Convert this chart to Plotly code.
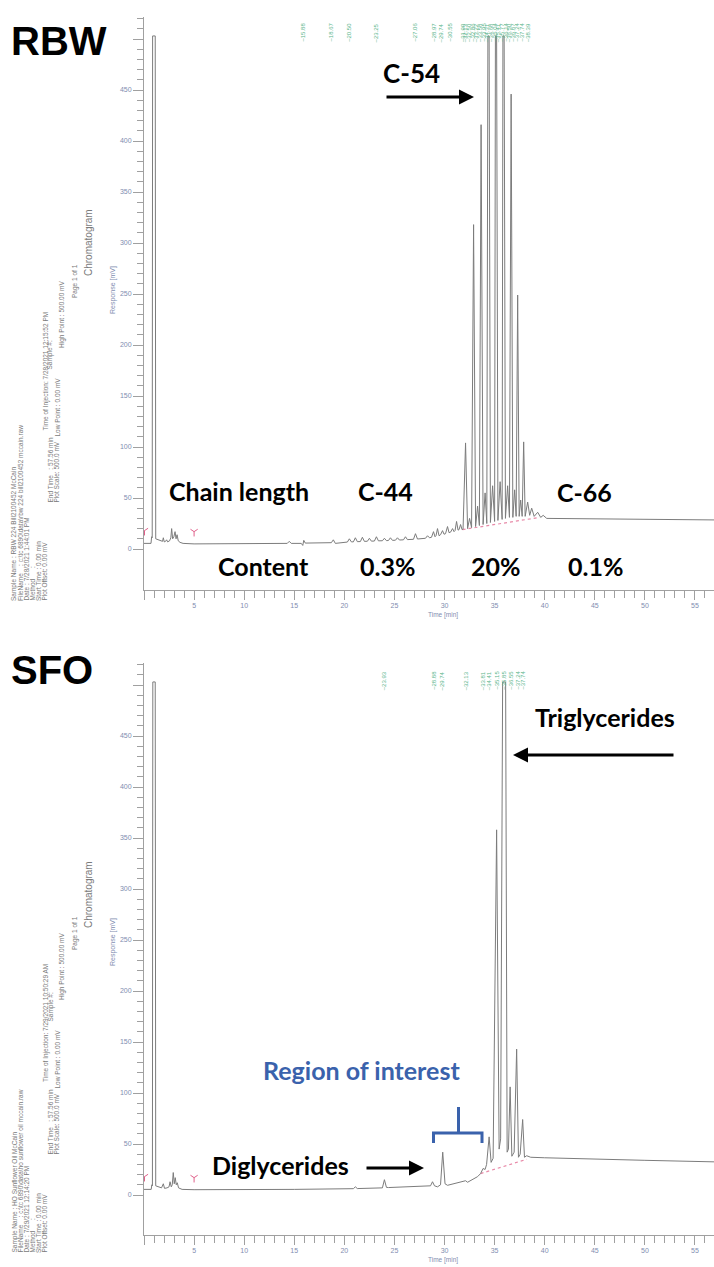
import plotly.graph_objects as go

W, H = 714, 1267

# ---------------- data (time [min], response [mV]) ----------------
rbw_trace = [
    (0.0, 5.5), (0.70, 5.5), (0.76, 12), (0.82, 11), (0.86, 503), (1.12, 503), (1.17, 10),
    (1.40, 9), (1.70, 8), (1.85, 7.5), (1.93, 11), (2.02, 7), (2.15, 7.5), (2.26, 9), (2.36, 7),
    (2.55, 8), (2.68, 11), (2.76, 20), (2.86, 10), (2.98, 12), (3.10, 17), (3.20, 10), (3.30, 14),
    (3.42, 8), (3.60, 6.5), (3.90, 5.5), (5.0, 5.0), (8.0, 5.0), (12.0, 5.5), (14.3, 5.5),
    (14.5, 7.5), (14.7, 5.5), (15.7, 5.5), (15.85, 3.5), (15.95, 8.5), (16.1, 5.8), (18.7, 6.2),
    (18.9, 9), (19.1, 5.5), (20.3, 6.8), (20.5, 10), (20.7, 7), (20.9, 7), (21.1, 11), (21.3, 7.2),
    (21.6, 7.3), (21.8, 11.5), (22.0, 7.5), (22.3, 7.6), (22.5, 10.5), (22.7, 7.7), (23.0, 7.8),
    (23.2, 12), (23.4, 8), (23.8, 8.1), (24.0, 10.5), (24.2, 8.2), (24.4, 8.3), (24.6, 11),
    (24.8, 8.5), (25.1, 8.6), (25.3, 11), (25.5, 8.8), (25.9, 9), (26.1, 12), (26.3, 9.2),
    (26.9, 9.5), (27.1, 15), (27.3, 9.8), (28.1, 10.5), (28.3, 13), (28.5, 11), (28.7, 11.5),
    (28.9, 17), (29.05, 12), (29.15, 13), (29.3, 20), (29.45, 13), (29.6, 14), (29.8, 18),
    (29.95, 14.5), (30.1, 15), (30.3, 22), (30.45, 16), (30.6, 16.5), (30.8, 20), (30.95, 17),
    (31.05, 18), (31.2, 27), (31.35, 18.5), (31.45, 19), (31.6, 24), (31.75, 19), (31.85, 19.5),
    (32.1, 104), (32.3, 20), (32.5, 30), (32.7, 21), (32.9, 318), (33.1, 22), (33.3, 42),
    (33.48, 23), (33.65, 416), (33.85, 24), (34.05, 55), (34.22, 25), (34.33, 503), (34.45, 503),
    (34.58, 26), (34.8, 62), (35.0, 27), (35.08, 503), (35.2, 503), (35.33, 28), (35.55, 66),
    (35.75, 29), (35.83, 503), (35.95, 503), (36.08, 30), (36.3, 62), (36.48, 31), (36.65, 446),
    (36.82, 31), (37.0, 58), (37.15, 32), (37.3, 249), (37.45, 32), (37.6, 48), (37.75, 32),
    (37.9, 105), (38.05, 32), (38.3, 46), (38.5, 33), (38.7, 40), (38.95, 32), (39.3, 36),
    (39.6, 31), (39.85, 33), (40.2, 30), (45.0, 29.5), (50.0, 29), (56.9, 28.5),
]

sfo_trace = [
    (0.0, 5.5), (0.72, 5.5), (0.78, 10), (0.84, 9), (0.88, 503), (1.12, 503), (1.17, 9),
    (1.45, 8), (1.75, 7), (1.93, 11), (2.05, 6.5), (2.3, 7), (2.5, 8), (2.6, 13), (2.72, 8),
    (2.82, 10), (2.92, 22), (3.02, 11), (3.12, 17), (3.22, 10), (3.32, 12), (3.45, 7), (3.8, 5.5),
    (5.0, 5.2), (10.0, 5.0), (15.0, 5.5), (20.9, 6.2), (21.1, 8), (21.3, 6.3), (23.8, 7),
    (24.0, 15), (24.2, 7.5), (24.4, 7.3), (27.5, 8.5), (28.6, 9), (28.8, 13), (29.0, 9),
    (29.3, 8), (29.6, 10), (29.82, 42), (30.05, 11), (30.3, 9.5), (31.0, 11), (31.7, 12.5),
    (32.1, 14), (32.3, 12.5), (32.8, 15), (33.3, 18), (33.6, 21), (33.85, 26), (34.05, 25),
    (34.2, 30), (34.45, 57), (34.65, 32), (34.85, 36), (35.2, 358), (35.45, 45), (35.6, 55),
    (35.8, 503), (36.1, 503), (36.25, 42), (36.38, 45), (36.55, 106), (36.72, 38), (36.95, 42),
    (37.2, 143), (37.38, 37), (37.55, 40), (37.8, 74), (37.98, 37), (38.2, 38.5), (38.6, 37),
    (40.0, 36.5), (45.0, 35), (50.0, 34), (56.9, 32.5),
]

rbw_baseline = [(31.8, 19), (39.5, 31)]
sfo_baseline = [(33.6, 21), (38.2, 35)]
event_marks = [(0.05, 18), (5.0, 17)]

rbw_peak_labels = ["15.88", "18.67", "20.50", "23.25", "27.06", "28.97", "29.74", "30.55",
                   "31.90", "32.13", "32.50", "32.86", "33.22", "33.58", "33.95", "34.31",
                   "34.68", "35.04", "35.41", "35.77", "36.14", "36.50", "36.87", "37.24",
                   "37.74", "38.39"]
sfo_peak_labels = ["23.93", "28.88", "29.74", "32.13", "33.81", "34.41", "35.15", "35.85",
                   "36.55", "37.24", "37.74"]

x_major = list(range(0, 56, 5))
x_minor = [v for v in range(1, 57) if v % 5]
y_major = list(range(0, 501, 50))
y_minor = [v for v in range(10, 521, 10) if v % 50]

rbw_meta = [
    (14, 603, "Sample Name : RBW 224 Bill2100452 McCain"),
    (20, 603, "FileName    : c:\\tc 6890\\data\\rbw 224 bill2100452 mccain.raw"),
    (26, 603, "Date : 7/28/2021 1:44:01 PM"),
    (32, 603, "Method      :"),
    (38, 603, "Start Time : 0.00 min"),
    (44, 603, "Plot Offset: 0.00 mV"),
    (50, 505, "End Time   : 57.56 min"),
    (56, 505, "Plot Scale: 500.0 mV"),
    (46, 432, "Time of Injection: 7/28/2021 12:15:52 PM"),
    (57, 438, "Low Point : 0.00 mV"),
    (62, 350, "High Point : 500.00 mV"),
    (50, 372, "Sample #:"),
    (75, 300, "Page 1 of 1"),
]
sfo_meta = [
    (14, 603, "Sample Name : HO Sunflower Oil McCain"),
    (20, 603, "FileName    : c:\\tc 6890\\data\\ho sunflower oil mccain.raw"),
    (26, 603, "Date : 7/29/2021 12:14:20 PM"),
    (32, 603, "Method      :"),
    (38, 603, "Start Time : 0.00 min"),
    (44, 603, "Plot Offset: 0.00 mV"),
    (50, 505, "End Time   : 57.56 min"),
    (56, 505, "Plot Scale: 500.0 mV"),
    (46, 432, "Time of Injection: 7/29/2021 10:50:29 AM"),
    (57, 438, "Low Point : 0.00 mV"),
    (62, 350, "High Point : 500.00 mV"),
    (50, 372, "Sample #:"),
    (75, 300, "Page 1 of 1"),
]

# ---------------- layout geometry (pixels) ----------------
X0 = 144            # y-axis line
PANELS = [dict(top=17, bottom=590, zero=549), dict(top=663, bottom=1235, zero=1195)]
PX_PER_MV = 1.02
X_MAX = 56.9


def px(x):
    return x / W


def py(y):
    return 1 - y / H


fig = go.Figure()

trace_color = "#7c7c7c"
for i, (trace, base) in enumerate([(rbw_trace, rbw_baseline), (sfo_trace, sfo_baseline)]):
    xa = "x" if i == 0 else "x2"
    ya = "y" if i == 0 else "y2"
    fig.add_trace(go.Scatter(x=[b[0] for b in base], y=[b[1] for b in base], mode="lines",
                             line=dict(color="#e88aa8", width=1.2, dash="dot"),
                             xaxis=xa, yaxis=ya, hoverinfo="skip"))
    fig.add_trace(go.Scatter(x=[p[0] for p in trace], y=[p[1] for p in trace], mode="lines",
                             line=dict(color=trace_color, width=1),
                             xaxis=xa, yaxis=ya))
    fig.add_trace(go.Scatter(x=[e[0] for e in event_marks], y=[e[1] for e in event_marks],
                             mode="markers", marker=dict(symbol="y-down-open", size=6,
                                                         color="#e0608a", line=dict(width=1, color="#e0608a")),
                             xaxis=xa, yaxis=ya, hoverinfo="skip"))

tickfont = dict(family="Liberation Sans", size=7, color="#7f8db0")
axis_common = dict(showline=True, linecolor="#a0a0a0", linewidth=1, ticks="outside",
                   tickcolor="#a0a0a0", tickwidth=1, showgrid=False, zeroline=False,
                   tickfont=tickfont, mirror=False)

layout_axes = {}
for i, p in enumerate(PANELS):
    sfx = "" if i == 0 else "2"
    ymin = -(p["bottom"] - p["zero"]) / PX_PER_MV
    ymax = (p["zero"] - p["top"]) / PX_PER_MV
    layout_axes["xaxis" + sfx] = dict(
        axis_common, domain=[X0 / W, 1.0], range=[0, X_MAX], anchor="y" + sfx,
        tickmode="array", tickvals=x_major,
        ticktext=["" if v == 0 else str(v) for v in x_major], ticklen=9,
        minor=dict(tickmode="array", tickvals=x_minor, ticklen=7, tickcolor="#a0a0a0", ticks="outside"),
    )
    layout_axes["yaxis" + sfx] = dict(
        axis_common, domain=[py(p["bottom"]), py(p["top"])], range=[ymin, ymax], anchor="x" + sfx,
        tickmode="array", tickvals=y_major,
        ticktext=["" if v == 500 else str(v) for v in y_major], ticklen=10,
        minor=dict(tickmode="array", tickvals=y_minor, ticklen=6, tickcolor="#a0a0a0", ticks="outside"),
    )

annotations = []


def ann(text, x, y, size, color="#000000", family="Lato", angle=0, xanchor="center", yanchor="middle"):
    annotations.append(dict(text=text, x=px(x), y=py(y), xref="paper", yref="paper", showarrow=False,
                            font=dict(size=size, color=color, family=family), textangle=angle,
                            xanchor=xanchor, yanchor=yanchor))


def arrow(tip_x, tip_y, dx):
    annotations.append(dict(text="", x=px(tip_x), y=py(tip_y), xref="paper", yref="paper",
                            showarrow=True, ax=dx, ay=0, arrowhead=2, arrowsize=1, arrowwidth=3,
                            arrowcolor="#000000", standoff=0))


# side metadata blocks
meta_col = "#7a7a7a"
for off, meta, axis_y in [(0, rbw_meta, 590), (652, sfo_meta, 1235)]:
    for (x, yb, t) in meta:
        ann(t, x, yb + off, 6.5, color=meta_col, family="Liberation Sans", angle=-90, yanchor="bottom")
    ann("Chromatogram", 88, 243 + off, 10, color=meta_col, family="Liberation Sans", angle=-90)
    ann("Response [mV]", 113, 290 + off, 7, color="#7f8db0", family="Liberation Sans", angle=-90)
    ann("Time [min]", 443, axis_y + 25, 6.5, color="#7f8db0", family="Liberation Sans")

# peak retention-time labels (green, rotated)
for labels, yb, xref in [(rbw_peak_labels, 44, "x"), (sfo_peak_labels, 692, "x2")]:
    for lab in labels:
        annotations.append(dict(text="\u2013" + lab, x=float(lab), y=py(yb), xref=xref, yref="paper",
                                showarrow=False, textangle=-90, xanchor="center", yanchor="bottom",
                                font=dict(size=6, color="#5bb58c", family="Liberation Sans")))

# big labels
ann("<b>RBW</b>", 59, 41, 40, family="Liberation Sans")
ann("<b>SFO</b>", 52, 670, 40, family="Liberation Sans")
ann("<b>C-54</b>", 412, 73, 26)
arrow(474, 97, -89)
ann("<b>Chain length</b>", 239, 491, 25)
ann("<b>C-44</b>", 385, 491, 25)
ann("<b>C-66</b>", 584, 492, 25)
ann("<b>Content</b>", 263, 566, 25)
ann("<b>0.3%</b>", 388, 566, 25)
ann("<b>20%</b>", 496, 566, 25)
ann("<b>0.1%</b>", 595, 566, 25)
ann("<b>Triglycerides</b>", 605, 717, 25)
arrow(513, 755, 162)
ann("<b>Region of interest</b>", 361, 1070, 25, color="#3a62ac")
ann("<b>Diglycerides</b>", 280, 1165, 25)
arrow(424, 1168, -59)

bx0, bx1, bxm, by_end, by_bar, by_stem = 433.5, 482, 458.5, 1143, 1133, 1107
bracket_path = (f"M {px(bx0)},{py(by_end)} L {px(bx0)},{py(by_bar)} L {px(bx1)},{py(by_bar)} "
                f"L {px(bx1)},{py(by_end)} M {px(bxm)},{py(by_bar)} L {px(bxm)},{py(by_stem)}")
shapes = [dict(type="path", path=bracket_path, xref="paper", yref="paper",
               line=dict(color="#3a62ac", width=3))]

fig.update_layout(
    width=W, height=H, margin=dict(l=0, r=0, t=0, b=0),
    paper_bgcolor="white", plot_bgcolor="white", showlegend=False,
    annotations=annotations, shapes=shapes, **layout_axes,
)

fig.write_html("out.html")
